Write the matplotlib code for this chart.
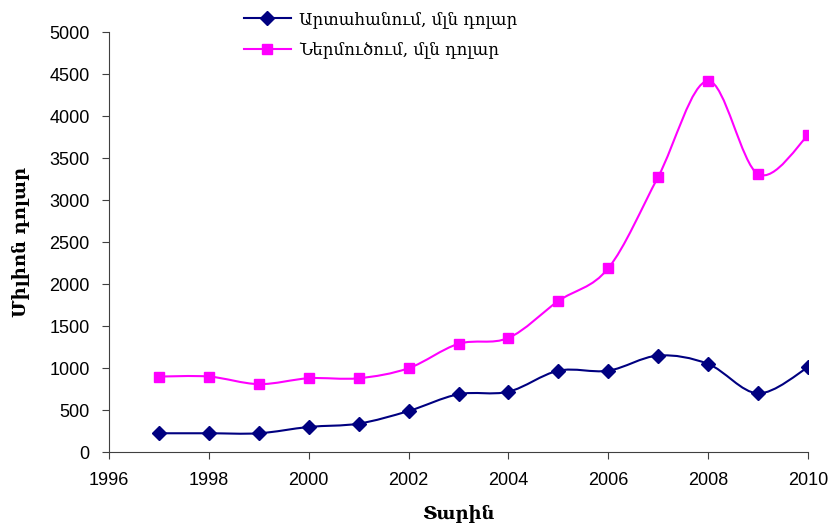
import matplotlib
matplotlib.use('Agg')
import matplotlib.pyplot as plt
import numpy as np
from matplotlib.path import Path
from matplotlib.patches import PathPatch
from matplotlib.lines import Line2D

years = [1997, 1998, 1999, 2000, 2001, 2002, 2003, 2004, 2005, 2006, 2007, 2008, 2009, 2010]
export_vals = [225, 225, 225, 300, 340, 490, 690, 720, 970, 970, 1150, 1050, 700, 1010]
import_vals = [900, 900, 810, 880, 880, 1000, 1290, 1360, 1800, 2190, 3280, 4420, 3310, 3770]
export_label = 'Արտահանում, մլն դոլար'
import_label = 'Ներմուծում, մլն դոլար'


def smooth_path(x, y):
    # Excel-like smoothed line: Catmull-Rom as cubic Bezier segments
    x = np.asarray(x, float)
    y = np.asarray(y, float)
    verts = [(x[0], y[0])]
    codes = [Path.MOVETO]
    n = len(x)
    for i in range(n - 1):
        x0, y0 = (x[i - 1], y[i - 1]) if i > 0 else (x[i], y[i])
        x3, y3 = (x[i + 2], y[i + 2]) if i + 2 < n else (x[i + 1], y[i + 1])
        c1 = (x[i] + (x[i + 1] - x0) / 6, y[i] + (y[i + 1] - y0) / 6)
        c2 = (x[i + 1] - (x3 - x[i]) / 6, y[i + 1] - (y3 - y[i]) / 6)
        verts += [c1, c2, (x[i + 1], y[i + 1])]
        codes += [Path.CURVE4] * 3
    return Path(verts, codes)


fig = plt.figure(figsize=(8.33, 5.27), dpi=100)
ax = fig.add_axes([0.131, 0.142, 0.839, 0.797])

navy = '#000080'
magenta = '#FF00FF'
axis_col = '#404040'

ax.add_patch(PathPatch(smooth_path(years, export_vals), facecolor='none', edgecolor=navy, lw=1.5))
ax.add_patch(PathPatch(smooth_path(years, import_vals), facecolor='none', edgecolor=magenta, lw=1.5))
ax.plot(years, export_vals, linestyle='none', marker='D', ms=7, color=navy)
ax.plot(years, import_vals, linestyle='none', marker='s', ms=7.5, color=magenta)

ax.set_xlim(1996, 2010)
ax.set_ylim(0, 5000)
ax.set_xticks(range(1996, 2011, 2))
ax.set_yticks(range(0, 5001, 500))
ax.spines['top'].set_visible(False)
ax.spines['right'].set_visible(False)
ax.spines['left'].set_color(axis_col)
ax.spines['bottom'].set_color(axis_col)
ax.tick_params(axis='both', color=axis_col, length=5, labelsize=13)
ax.tick_params(axis='y', pad=9)
ax.tick_params(axis='x', pad=9)
for lab in ax.get_xticklabels() + ax.get_yticklabels():
    lab.set_family('Liberation Sans')

ax.set_xlabel('Տարին', family='DejaVu Serif', fontweight='bold', fontsize=13, labelpad=12)
ax.set_ylabel('Միլիոն դոլար', family='DejaVu Serif', fontweight='bold', fontsize=13, labelpad=14)

handles = [Line2D([], [], color=navy, marker='D', ms=7, lw=1.5),
           Line2D([], [], color=magenta, marker='s', ms=7.5, lw=1.5)]
fig.legend(handles, [export_label, import_label], loc='upper left',
           bbox_to_anchor=(0.275, 1.008), frameon=False, handlelength=2.8,
           handletextpad=0.5, prop={'family': 'DejaVu Serif', 'size': 12},
           labelspacing=0.85)

fig.savefig('out.png', dpi=100)
